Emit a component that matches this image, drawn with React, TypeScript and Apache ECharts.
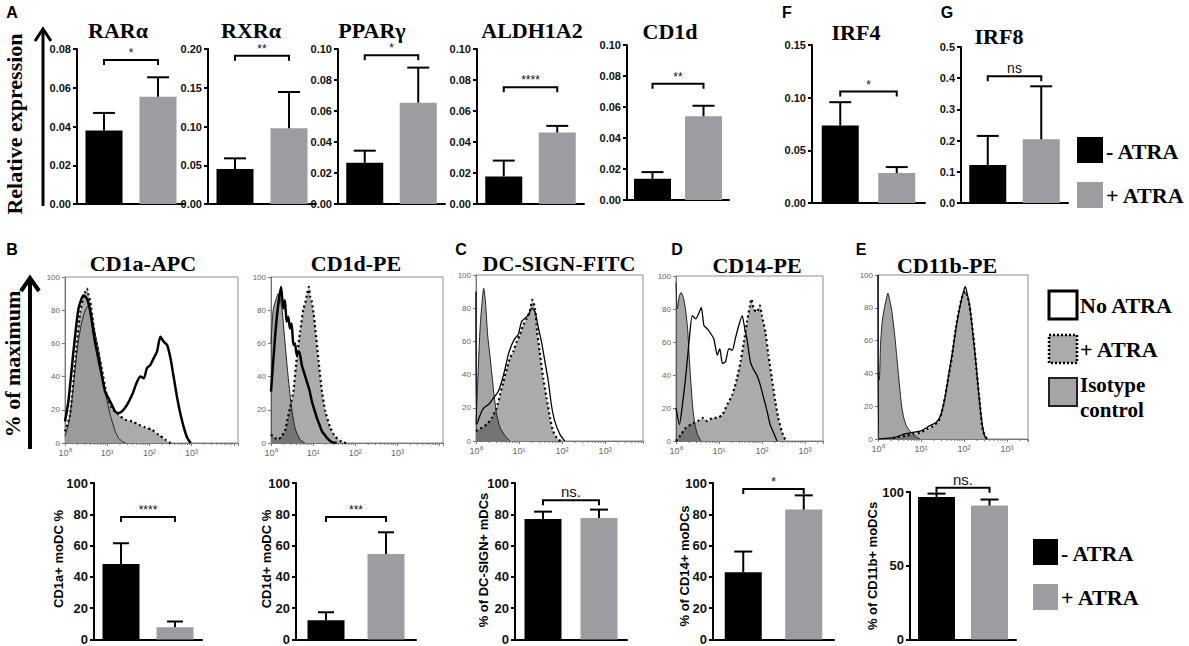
import React, { useEffect, useRef } from 'react';
import * as echarts from 'echarts';

const SERIF = '"Liberation Serif", "Times New Roman", serif';
const SANS = '"Liberation Sans", Arial, sans-serif';
const BLACK = '#000000';
const GRAY = '#9d9da1';

const groups = ['- ATRA', '+ ATRA'];

// ---- Panels A, F, G: relative expression (mean, SD) ----
const rarMean = [0.038, 0.0554];
const rarSd = [0.009, 0.01];
const rxrMean = [0.0452, 0.0976];
const rxrSd = [0.0137, 0.0469];
const pparMean = [0.0266, 0.0654];
const pparSd = [0.0078, 0.0226];
const aldhMean = [0.0177, 0.0461];
const aldhSd = [0.0103, 0.0043];
const cd1dMean = [0.0137, 0.054];
const cd1dSd = [0.0043, 0.0068];
const irf4Mean = [0.0736, 0.0284];
const irf4Sd = [0.0221, 0.0057];
const irf8Mean = [0.122, 0.204];
const irf8Sd = [0.093, 0.17];

// ---- Bottom row: % positive cells (mean, SD) ----
const cd1aPosMean = [48.3, 7.9];
const cd1aPosSd = [13.2, 3.6];
const cd1dPosMean = [12.3, 54.7];
const cd1dPosSd = [5.1, 13.8];
const dcsignPosMean = [77, 77.7];
const dcsignPosSd = [4.7, 5.3];
const cd14PosMean = [43, 83];
const cd14PosSd = [13.2, 9.1];
const cd11bPosMean = [96.6, 90.8];
const cd11bPosSd = [2.3, 4.1];

// ---- Histograms: [log10 fluorescence, % of maximum] ----
const cd1aIso = [[0,4],[0.08,11],[0.16,25],[0.24,45],[0.32,62],[0.4,73],[0.48,80],[0.56,83],[0.62,79],[0.67,72],[0.73,64],[0.79,57],[0.87,44],[0.95,31],[1.01,24],[1.07,17],[1.13,12],[1.19,7],[1.27,3],[1.35,1],[1.43,0]];
const cd1aPlus = [[0,7],[0.12,17],[0.24,49],[0.36,79],[0.44,88],[0.48,91],[0.52,93],[0.56,89],[0.6,85],[0.71,65],[0.87,45],[0.99,29],[1.11,21],[1.27,17],[1.43,14],[1.59,13],[1.75,11],[1.9,9.4],[2.06,8],[2.22,5],[2.38,2],[2.5,0]];
const cd1aNo = [[0,13],[0.08,25],[0.2,55],[0.32,81],[0.44,89],[0.52,87],[0.6,79],[0.71,61],[0.87,41],[0.95,31],[1.03,27],[1.11,23],[1.19,19],[1.27,18],[1.35,19],[1.47,23],[1.59,29],[1.71,37],[1.79,40],[1.87,39],[1.94,45],[2.02,47],[2.1,51],[2.18,55],[2.26,64],[2.34,61],[2.42,59],[2.5,51],[2.58,39],[2.66,27],[2.74,17],[2.82,9],[2.9,3],[2.98,0]];

const cd1dIso = [[0,60],[0.05,80],[0.1,85],[0.17,90],[0.25,83],[0.33,61],[0.41,39],[0.49,21],[0.57,9],[0.69,2],[0.81,0]];
const cd1dNo = [[0,31],[0.1,65],[0.17,83],[0.24,94],[0.29,81],[0.33,86],[0.37,73],[0.41,76],[0.45,69],[0.49,72],[0.53,59],[0.57,60],[0.61,53],[0.67,55],[0.73,47],[0.79,42],[0.85,37],[0.91,32],[0.97,25],[1.03,20],[1.09,15],[1.15,11],[1.21,7],[1.27,5],[1.33,3],[1.44,0.6],[1.56,0]];
const cd1dPlus = [[0,5],[0.1,3],[0.17,2],[0.25,4],[0.33,7],[0.39,14],[0.45,21],[0.53,31],[0.61,51],[0.69,67],[0.77,81],[0.81,84],[0.85,89],[0.9,94],[0.93,88],[0.97,85],[1.01,78],[1.05,69],[1.13,49],[1.21,31],[1.29,19],[1.41,9],[1.52,4],[1.68,0.6],[1.8,0]];

const dcIso = [[0,10],[0.04,36],[0.1,70],[0.18,92],[0.22,84],[0.27,64],[0.33,50],[0.41,30],[0.48,16],[0.56,8],[0.68,3],[0.79,0]];
const dcNo = [[0,90],[0.02,10],[0.1,16],[0.18,20],[0.29,22],[0.41,26],[0.52,30],[0.6,36],[0.68,44],[0.75,52],[0.83,58],[0.91,62],[0.98,64],[1.06,72],[1.14,74],[1.22,76],[1.29,80],[1.37,78],[1.45,68],[1.52,60],[1.6,48],[1.68,36],[1.75,22],[1.83,12],[1.95,4],[2.06,0]];
const dcPlus = [[0,6],[0.14,8],[0.25,10],[0.37,14],[0.48,20],[0.56,28],[0.64,36],[0.72,44],[0.79,50],[0.87,54],[0.95,60],[1.02,64],[1.1,70],[1.18,74],[1.25,78],[1.31,85],[1.37,80],[1.42,66],[1.48,54],[1.56,38],[1.64,26],[1.72,14],[1.79,6],[1.9,1],[1.98,0]];

const cd14Iso = [[0,96],[0.03,80],[0.08,88],[0.12,90],[0.17,87],[0.22,80],[0.27,68],[0.31,50],[0.35,34],[0.39,20],[0.44,10],[0.5,4],[0.58,0]];
const cd14No = [[0,20],[0.08,10],[0.15,22],[0.23,40],[0.31,62],[0.38,76],[0.46,74],[0.54,78],[0.59,81],[0.65,70],[0.73,68],[0.81,65],[0.88,62],[0.96,52],[1.02,56],[1.08,47],[1.15,48],[1.23,56],[1.31,55],[1.38,62],[1.46,70],[1.54,76],[1.6,68],[1.65,62],[1.73,48],[1.81,43],[1.88,40],[1.96,34],[2.04,26],[2.12,18],[2.19,10],[2.27,5],[2.35,0]];
const cd14Plus = [[0,0],[0.12,4],[0.23,8],[0.35,10],[0.5,12],[0.62,14],[0.73,12],[0.85,14],[0.96,14],[1.08,16],[1.19,22],[1.31,28],[1.42,38],[1.5,48],[1.58,60],[1.65,72],[1.72,82],[1.75,86],[1.81,80],[1.88,78],[1.95,82],[2.0,76],[2.08,66],[2.15,52],[2.23,38],[2.31,24],[2.38,14],[2.46,6],[2.54,1],[2.6,0]];

const cd11bIso = [[0,40],[0.03,36],[0.06,58],[0.1,72],[0.15,80],[0.2,86],[0.23,89],[0.27,85],[0.31,80],[0.35,72],[0.39,63],[0.43,52],[0.47,41],[0.51,30],[0.55,20],[0.6,13],[0.66,8],[0.74,5],[0.82,3],[0.9,1],[0.98,0]];
const cd11bPlus = [[0.35,0.6],[0.66,2],[0.82,3],[0.98,4],[1.13,6],[1.29,8],[1.41,11],[1.48,16],[1.56,26],[1.64,38],[1.72,50],[1.8,66],[1.88,78],[1.95,86],[2.03,90],[2.09,86],[2.15,78],[2.23,60],[2.3,40],[2.37,22],[2.42,8],[2.48,2],[2.54,0]];
const cd11bNo = [[0,100],[0.02,0],[0.4,1],[0.6,3],[0.8,4],[1.0,5],[1.2,8],[1.35,10],[1.45,14],[1.55,24],[1.65,40],[1.75,56],[1.83,70],[1.9,80],[1.97,88],[2.03,93],[2.08,88],[2.13,82],[2.2,66],[2.28,46],[2.35,26],[2.42,10],[2.48,2],[2.54,0]];

const decadeLabels = ['10⁰', '10¹', '10²', '10³'];
const decades = [0, 1, 2, 3, 4];

type BarPanel = {
  mean: number[]; sd: number[]; sig: string; sigY: number;
  max: number; interval: number; decimals: number;
  left: number; top: number; width: number; height: number;
  cap: number; labelSize: number; sigSize: number;
};

const barPanels: BarPanel[] = [
  { mean: rarMean, sd: rarSd, sig: '*', sigY: 0.0743, max: 0.08, interval: 0.02, decimals: 2, left: 77, top: 49, width: 108, height: 155, cap: 11, labelSize: 11, sigSize: 12 },
  { mean: rxrMean, sd: rxrSd, sig: '**', sigY: 0.1914, max: 0.2, interval: 0.05, decimals: 2, left: 208, top: 49, width: 108, height: 155, cap: 11, labelSize: 11, sigSize: 12 },
  { mean: pparMean, sd: pparSd, sig: '*', sigY: 0.096, max: 0.1, interval: 0.02, decimals: 2, left: 338, top: 49, width: 107, height: 155, cap: 11, labelSize: 11, sigSize: 12 },
  { mean: aldhMean, sd: aldhSd, sig: '****', sigY: 0.0754, max: 0.1, interval: 0.02, decimals: 2, left: 477, top: 49, width: 107, height: 155, cap: 11, labelSize: 11, sigSize: 12 },
  { mean: cd1dMean, sd: cd1dSd, sig: '**', sigY: 0.075, max: 0.1, interval: 0.02, decimals: 2, left: 627, top: 45, width: 102, height: 155, cap: 11, labelSize: 11, sigSize: 12 },
  { mean: irf4Mean, sd: irf4Sd, sig: '*', sigY: 0.1058, max: 0.15, interval: 0.05, decimals: 2, left: 812, top: 45, width: 113, height: 158, cap: 11, labelSize: 11, sigSize: 12 },
  { mean: irf8Mean, sd: irf8Sd, sig: 'ns', sigY: 0.406, max: 0.5, interval: 0.1, decimals: 1, left: 961, top: 47, width: 107, height: 156, cap: 11, labelSize: 11, sigSize: 14 },
  { mean: cd1aPosMean, sd: cd1aPosSd, sig: '****', sigY: 78.3, max: 100, interval: 20, decimals: 0, left: 94, top: 483, width: 108, height: 157, cap: 8, labelSize: 13, sigSize: 12 },
  { mean: cd1dPosMean, sd: cd1dPosSd, sig: '***', sigY: 78.3, max: 100, interval: 20, decimals: 0, left: 296, top: 483, width: 120, height: 157, cap: 8, labelSize: 13, sigSize: 12 },
  { mean: dcsignPosMean, sd: dcsignPosSd, sig: 'ns.', sigY: 88.9, max: 100, interval: 20, decimals: 0, left: 515, top: 483, width: 112, height: 157, cap: 9, labelSize: 13, sigSize: 15 },
  { mean: cd14PosMean, sd: cd14PosSd, sig: '*', sigY: 96.2, max: 100, interval: 20, decimals: 0, left: 713, top: 483, width: 121, height: 157, cap: 9, labelSize: 13, sigSize: 13 },
  { mean: cd11bPosMean, sd: cd11bPosSd, sig: 'ns.', sigY: 102.9, max: 100, interval: 50, decimals: 0, left: 910, top: 492, width: 106, height: 149, cap: 9, labelSize: 13, sigSize: 15 },
];

type HistPanel = {
  iso: number[][]; plus: number[][]; no: number[][];
  maxDec: number; left: number; top: number; width: number; height: number;
  noWidth: number; isoAlpha: number;
};

const histPanels: HistPanel[] = [
  { iso: cd1aIso, plus: cd1aPlus, no: cd1aNo, maxDec: 4.1, left: 65, top: 277, width: 173, height: 166, noWidth: 2.5, isoAlpha: 0.12 },
  { iso: cd1dIso, plus: cd1dPlus, no: cd1dNo, maxDec: 4.08, left: 271, top: 277, width: 172, height: 166, noWidth: 2.5, isoAlpha: 0.42 },
  { iso: dcIso, plus: dcPlus, no: dcNo, maxDec: 3.88, left: 476, top: 275, width: 167, height: 166, noWidth: 1.3, isoAlpha: 0.42 },
  { iso: cd14Iso, plus: cd14Plus, no: cd14No, maxDec: 3.42, left: 676, top: 276, width: 147, height: 165, noWidth: 1.3, isoAlpha: 0.42 },
  { iso: cd11bIso, plus: cd11bPlus, no: cd11bNo, maxDec: 3.49, left: 878, top: 275, width: 150, height: 164, noWidth: 1.3, isoAlpha: 0.42 },
];

function errorRender(cap: number) {
  return (params: any, api: any) => {
    const base = api.coord([api.value(0), api.value(1)]);
    const top = api.coord([api.value(0), api.value(2)]);
    const st = { stroke: '#000', lineWidth: 2 };
    return {
      type: 'group',
      children: [
        { type: 'line', shape: { x1: base[0], y1: base[1], x2: top[0], y2: top[1] }, style: st },
        { type: 'line', shape: { x1: top[0] - cap, y1: top[1], x2: top[0] + cap, y2: top[1] }, style: st },
      ],
    };
  };
}

function bracketRender(sig: string, size: number) {
  return (params: any, api: any) => {
    const p0 = api.coord([0, api.value(0)]);
    const p1 = api.coord([1, api.value(0)]);
    return {
      type: 'group',
      children: [
        {
          type: 'polyline',
          shape: { points: [[p0[0], p0[1] + 5], [p0[0], p0[1]], [p1[0], p1[1]], [p1[0], p1[1] + 5]] },
          style: { stroke: '#000', lineWidth: 2, fill: 'none' },
        },
        {
          type: 'text',
          x: (p0[0] + p1[0]) / 2,
          y: p0[1] - 1,
          style: {
            text: sig, align: 'center', verticalAlign: 'bottom', textAlign: 'center', textVerticalAlign: 'bottom',
            font: `${size}px ${SANS}`, fill: '#111',
          },
        },
      ],
    };
  };
}

// small log-scale minor ticks inside each decade
function minorTickRender(maxDec: number) {
  return (params: any, api: any) => {
    const d = api.value(0);
    const children: any[] = [];
    for (let k = 2; k <= 9; k++) {
      const x = d + Math.log10(k);
      if (x > maxDec) break;
      const p = api.coord([x, 0]);
      children.push({ type: 'line', shape: { x1: p[0], y1: p[1], x2: p[0], y2: p[1] + 2 }, style: { stroke: '#777', lineWidth: 1 } });
    }
    return { type: 'group', children };
  };
}

function txt(text: string, x: number, y: number, font: string, align = 'center', rotation = 0): any {
  return {
    type: 'text', x, y, rotation,
    style: { text, x: 0, y: 0, font, fill: '#000', align, verticalAlign: 'middle', textAlign: align, textVerticalAlign: 'middle' },
  };
}

function buildOption() {
  const grids: any[] = [];
  const xAxes: any[] = [];
  const yAxes: any[] = [];
  const series: any[] = [];
  const axisStroke = { color: '#000', width: 2 };

  barPanels.forEach((p) => {
    const idx = grids.length;
    grids.push({ left: p.left, top: p.top, width: p.width, height: p.height });
    xAxes.push({
      gridIndex: idx, type: 'category', data: groups,
      axisLine: { lineStyle: axisStroke },
      axisTick: { alignWithLabel: true, length: 4, lineStyle: axisStroke },
      axisLabel: { show: false },
    });
    yAxes.push({
      gridIndex: idx, type: 'value', min: 0, max: p.max, interval: p.interval,
      splitLine: { show: false },
      axisLine: { show: true, lineStyle: axisStroke },
      axisTick: { show: true, length: 4, lineStyle: axisStroke },
      axisLabel: {
        fontFamily: SANS, fontWeight: 'bold', fontSize: p.labelSize, color: '#111', margin: 6,
        formatter: (v: number) => v.toFixed(p.decimals),
      },
    });
    series.push({
      type: 'bar', xAxisIndex: idx, yAxisIndex: idx, barWidth: 37, z: 2,
      data: p.mean.map((m, i) => ({ value: m, itemStyle: { color: i === 0 ? BLACK : GRAY } })),
    });
    series.push({
      type: 'custom', xAxisIndex: idx, yAxisIndex: idx, z: 3, clip: false,
      data: p.mean.map((m, i) => [i, m, m + p.sd[i]]),
      renderItem: errorRender(p.cap),
    });
    series.push({
      type: 'custom', xAxisIndex: idx, yAxisIndex: idx, z: 3, clip: false,
      data: [[p.sigY]],
      encode: { y: 0 },
      renderItem: bracketRender(p.sig, p.sigSize),
    });
  });

  histPanels.forEach((p) => {
    const idx = grids.length;
    grids.push({ left: p.left, top: p.top, width: p.width, height: p.height, show: true, borderColor: '#8c8c8c', borderWidth: 1 });
    xAxes.push({
      gridIndex: idx, type: 'value', min: 0, max: p.maxDec, interval: 1,
      splitLine: { show: false },
      axisLine: { lineStyle: { color: '#777', width: 1 } },
      axisTick: { length: 3, lineStyle: { color: '#777' } },
      axisLabel: {
        fontFamily: SANS, fontSize: 9, color: '#666', margin: 5,
        formatter: (v: number) => (Number.isInteger(v) && v < decadeLabels.length ? decadeLabels[v] : ''),
      },
    });
    yAxes.push({
      gridIndex: idx, type: 'value', min: 0, max: 100, interval: 20,
      splitLine: { show: false },
      axisLine: { show: true, lineStyle: { color: '#777', width: 1 } },
      axisTick: { show: true, length: 3, lineStyle: { color: '#777' } },
      axisLabel: { fontFamily: SANS, fontSize: 8, color: '#666', margin: 5 },
    });
    series.push({
      type: 'line', xAxisIndex: idx, yAxisIndex: idx, data: p.plus, showSymbol: false, smooth: 0.2,
      lineStyle: { color: '#000', width: 2.2, type: [2, 3] },
      areaStyle: { color: '#ababab', opacity: 1 },
    });
    series.push({
      type: 'line', xAxisIndex: idx, yAxisIndex: idx, data: p.iso, showSymbol: false, smooth: 0.2,
      lineStyle: { color: '#222', width: 1 },
      areaStyle: { color: `rgba(40,40,40,${p.isoAlpha})`, opacity: 1 },
    });
    series.push({
      type: 'line', xAxisIndex: idx, yAxisIndex: idx, data: p.no, showSymbol: false, smooth: 0.2,
      lineStyle: { color: '#000', width: p.noWidth },
    });
    series.push({
      type: 'custom', xAxisIndex: idx, yAxisIndex: idx, clip: false, silent: true,
      data: decades.filter((d) => d < p.maxDec).map((d) => [d, 0]),
      renderItem: minorTickRender(p.maxDec),
    });
  });

  const titleFont = `bold 22px ${SERIF}`;
  const letterFont = `bold 16px ${SANS}`;
  const legendFont = `bold 22px ${SERIF}`;
  const yNameFont = `bold 13px ${SANS}`;

  const graphic: any[] = [
    // panel letters
    txt('A', 12, 12, letterFont), txt('F', 787, 12, letterFont), txt('G', 947, 12, letterFont),
    txt('B', 12, 249, letterFont), txt('C', 461, 249, letterFont), txt('D', 677, 249, letterFont), txt('E', 861, 249, letterFont),
    // titles row A
    txt('RARα', 118, 30, titleFont), txt('RXRα', 251, 30, titleFont), txt('PPARγ', 372, 30, titleFont),
    txt('ALDH1A2', 532, 30, titleFont), txt('CD1d', 670, 31, titleFont), txt('IRF4', 856, 32, titleFont), txt('IRF8', 999, 36, titleFont),
    // titles histograms
    txt('CD1a-APC', 143, 263, titleFont), txt('CD1d-PE', 356, 263, titleFont), txt('DC-SIGN-FITC', 559, 263, titleFont),
    txt('CD14-PE', 757, 265, titleFont), txt('CD11b-PE', 947, 265, titleFont),
    // big y labels + arrows
    txt('Relative expression', 14, 124, titleFont, 'center', Math.PI / 2),
    { type: 'line', shape: { x1: 43, y1: 206, x2: 43, y2: 30 }, style: { stroke: '#000', lineWidth: 3 } },
    { type: 'polyline', shape: { points: [[35, 41], [43, 29], [51, 41]] }, style: { stroke: '#000', lineWidth: 3, fill: 'none' } },
    txt('% of maximum', 12, 364, titleFont, 'center', Math.PI / 2),
    { type: 'line', shape: { x1: 30, y1: 449, x2: 30, y2: 280 }, style: { stroke: '#000', lineWidth: 4 } },
    { type: 'polyline', shape: { points: [[21, 291], [30, 278], [39, 291]] }, style: { stroke: '#000', lineWidth: 4, fill: 'none' } },
    // bottom y-axis names
    txt('CD1a+ moDC %', 58, 559, yNameFont, 'center', Math.PI / 2),
    txt('CD1d+ moDC %', 266, 559, yNameFont, 'center', Math.PI / 2),
    txt('% of DC-SIGN+ mDCs', 483, 560, yNameFont, 'center', Math.PI / 2),
    txt('% of CD14+ moDCs', 684, 566, yNameFont, 'center', Math.PI / 2),
    txt('% of CD11b+ moDCs', 872, 566, yNameFont, 'center', Math.PI / 2),
    // legend top right
    { type: 'rect', shape: { x: 1077, y: 137, width: 26, height: 26 }, style: { fill: BLACK } },
    txt('- ATRA', 1106, 151, legendFont, 'left'),
    { type: 'rect', shape: { x: 1077, y: 182, width: 26, height: 26 }, style: { fill: GRAY } },
    txt('+ ATRA', 1106, 195, legendFont, 'left'),
    // legend histograms
    { type: 'rect', shape: { x: 1049, y: 291, width: 28, height: 28 }, style: { fill: '#fff', stroke: '#000', lineWidth: 3 } },
    txt('No ATRA', 1080, 305, legendFont, 'left'),
    { type: 'rect', shape: { x: 1049, y: 335, width: 28, height: 28 }, style: { fill: '#ababab', stroke: '#000', lineWidth: 2.5, lineDash: [2, 2] } },
    txt('+ ATRA', 1080, 349, legendFont, 'left'),
    { type: 'rect', shape: { x: 1049, y: 378, width: 28, height: 28 }, style: { fill: '#a6a6a6', stroke: '#222', lineWidth: 2 } },
    txt('Isotype', 1080, 385, `bold 21px ${SERIF}`, 'left'),
    txt('control', 1080, 410, `bold 21px ${SERIF}`, 'left'),
    // legend bottom right
    { type: 'rect', shape: { x: 1033, y: 539, width: 25, height: 26 }, style: { fill: BLACK } },
    txt('- ATRA', 1061, 553, legendFont, 'left'),
    { type: 'rect', shape: { x: 1033, y: 584, width: 25, height: 26 }, style: { fill: GRAY } },
    txt('+ ATRA', 1061, 597, legendFont, 'left'),
  ];

  return {
    animation: false,
    backgroundColor: '#ffffff',
    grid: grids,
    xAxis: xAxes,
    yAxis: yAxes,
    series,
    graphic,
  };
}

export default function App() {
  const ref = useRef<HTMLDivElement>(null);
  useEffect(() => {
    if (!ref.current) return;
    const chart = echarts.init(ref.current, null, { renderer: 'svg' });
    chart.setOption(buildOption() as any);
    return () => chart.dispose();
  }, []);
  return (
    <div
      ref={ref}
      style={{ position: 'fixed', left: 0, top: 0, width: 1189, height: 646, background: '#fff' }}
    />
  );
}
